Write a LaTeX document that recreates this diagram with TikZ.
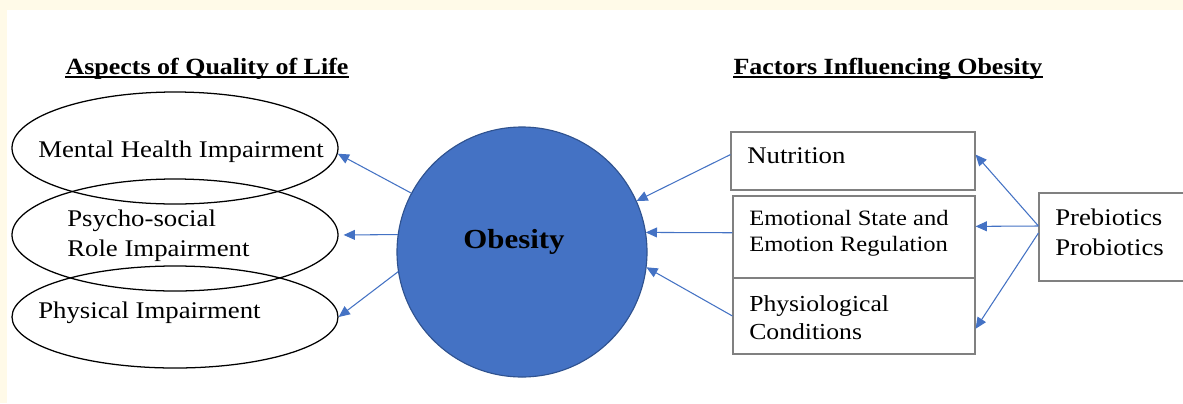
\documentclass[tikz,border=0pt]{standalone}
\usepackage{fontspec}
\setmainfont{Liberation Serif}[FakeStretch=1.12]
\usepackage{tikz}
\usetikzlibrary{arrows.meta, shapes.geometric}
\definecolor{obblue}{HTML}{4472C4}
\definecolor{obedge}{HTML}{2F528F}
\definecolor{boxgray}{HTML}{808080}
\definecolor{cream}{HTML}{FFFAE8}

\tikzset{
  qol/.style={ellipse, draw=black, line width=0.9pt, minimum width=326*0.025cm, inner sep=0pt},
  factor/.style={rectangle, draw=boxgray, line width=0.8pt, inner sep=0pt},
  txt/.style={anchor=west, inner sep=0pt, align=left, font=\fontsize{17}{21.3}\selectfont},
  heading/.style={anchor=base, inner sep=0pt, font=\fontsize{16.5}{20}\selectfont\bfseries},
  conn/.style={draw=obblue, line width=0.75pt, -{Triangle[length=8pt, width=7pt]}}
}

\begin{document}
\begin{tikzpicture}[x=0.025cm, y=-0.025cm]
  % page and cream frame
  \useasboundingbox (0,0) rectangle (1183,403);
  \fill[cream] (0,0) rectangle (1183,403);
  \fill[white] (7,10) rectangle (1183,403);

  % headings
  \node[heading] (qolhead) at (207,74) {Aspects of Quality of Life};
  \node[heading] (facthead) at (888,74) {Factors Influencing Obesity};
  \draw[line width=1.3pt] ([yshift=-0.08cm]qolhead.base west) -- ([yshift=-0.08cm]qolhead.base east);
  \draw[line width=1.3pt] ([yshift=-0.08cm]facthead.base west) -- ([yshift=-0.08cm]facthead.base east);

  % aspects of quality of life
  \node[qol, minimum height=112*0.025cm] (mental) at (175,148) {};
  \node[qol, minimum height=112*0.025cm] (psycho) at (175,235) {};
  \node[qol, minimum height=102*0.025cm] (physical) at (175,317) {};
  \node[txt] (mentaltxt) at (38,152) {Mental Health Impairment};
  \node[txt] (psychotxt) at (67,236) {Psycho-social\\Role Impairment};
  \node[txt] (physicaltxt) at (38,313) {Physical Impairment};

  % obesity
  \filldraw[fill=obblue, draw=obedge, line width=0.8pt] (522,252) circle (125);
  \node[circle, minimum size=250*0.025cm, inner sep=0pt] (obesity) at (522,252) {};
  \node[inner sep=0pt, font=\fontsize{19.6}{22}\selectfont\bfseries] (obtxt) at (514,242) {Obesity};

  % factors
  \node[factor, minimum width=244*0.025cm, minimum height=58*0.025cm] (nutrition) at (853,161) {};
  \node[factor, minimum width=242*0.025cm, minimum height=82*0.025cm] (emotion) at (854,237) {};
  \node[factor, minimum width=242*0.025cm, minimum height=76*0.025cm] (physio) at (854,316) {};
  \node[factor, minimum width=151*0.025cm, minimum height=88*0.025cm] (biotics) at (1114.5,237) {};
  \node[txt] (nutritiontxt) at (747,156) {Nutrition};
  \node[txt, font=\fontsize{15.6}{18.5}\selectfont] (emotiontxt) at (749,233) {Emotional State and\\Emotion Regulation};
  \node[txt, font=\fontsize{16.3}{19.9}\selectfont] (physiotxt) at (749,318) {Physiological\\Conditions};
  \node[txt] (bioticstxt) at (1055,232) {Prebiotics\\Probiotics};

  % obesity -> quality of life
  \draw[conn] (obesity.152) -- (mental.-2);
  \draw[conn, shorten >=5*0.025cm] (obesity.172) -- (psycho.east);
  \draw[conn] (obesity.189) -- (physical.east);

  % factors -> obesity
  \draw[conn] (nutrition.177) -- (obesity.24);
  \draw[conn] (emotion.178) -- (obesity.9);
  \draw[conn] (physio.west) -- (obesity.-7);

  % pre/probiotics -> factors
  \draw[conn] ([yshift=0.275cm]biotics.west) -- (nutrition.3);
  \draw[conn] ([yshift=0.275cm]biotics.west) -- (emotion.5);
  \draw[conn] ([yshift=0.1cm]biotics.west) -- (physio.-6);
\end{tikzpicture}
\end{document}
